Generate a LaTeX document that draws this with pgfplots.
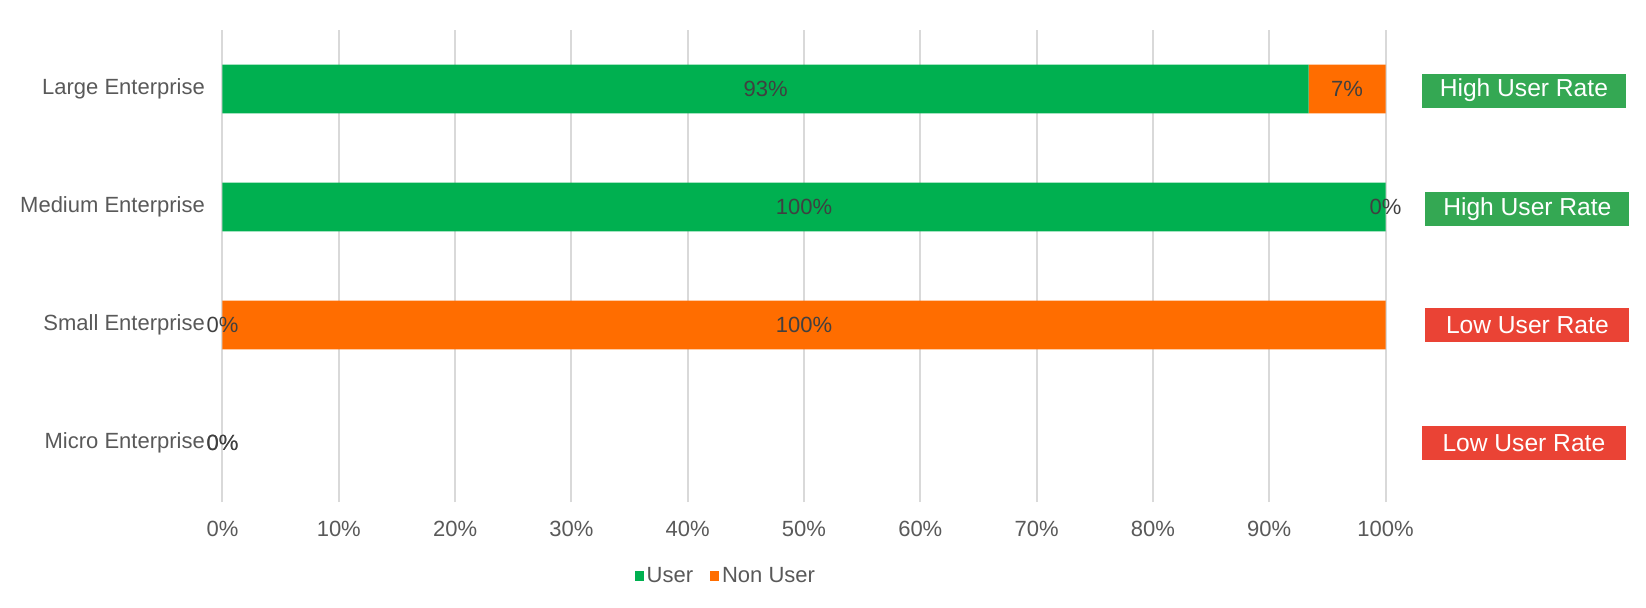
\documentclass[border=0pt]{standalone}
\usepackage{pgfplots}
\usepackage{pgfplotstable}
\pgfplotsset{compat=1.18}
\usepackage{fontspec}
\setmainfont{Liberation Sans}
\definecolor{userGreen}{HTML}{00B050}
\definecolor{nonOrange}{HTML}{FF6D00}
\definecolor{boxGreen}{HTML}{34A853}
\definecolor{boxRed}{HTML}{EA4335}
\definecolor{gridgray}{HTML}{D9D9D9}
\definecolor{textgray}{HTML}{595959}
\definecolor{labelgray}{HTML}{404040}

\pgfplotstableread{
y user nonuser
0 0 0
1 0 100
2 100 0
3 93.4 6.6
}\datatable

\begin{document}
\begin{tikzpicture}
\path[use as bounding box] (-111.25pt,-52.5pt) rectangle (711.75pt,251pt);
\begin{axis}[
  at={(0pt,0pt)}, anchor=south west,
  scale only axis, width=581.5pt, height=236pt,
  xbar stacked, bar width=24.35pt,
  xmin=0, xmax=100, ymin=-0.5, ymax=3.5,
  ytick={0,1,2,3},
  yticklabels={Micro Enterprise,Small Enterprise,Medium Enterprise,Large Enterprise},
  xtick={0,10,20,30,40,50,60,70,80,90,100},
  xticklabels={0\%,10\%,20\%,30\%,40\%,50\%,60\%,70\%,80\%,90\%,100\%},
  xmajorgrids, major grid style={draw=gridgray, line width=1pt},
  axis line style={draw=none}, major tick length=0pt,
  tick label style={font=\fontsize{11}{13}\selectfont, text=textgray},
  yticklabel style={xshift=-5.3pt},
  xticklabel style={yshift=-6pt},
  clip=false,
  legend style={at={(0.4334,-0.1568)}, anchor=center, draw=none, fill=none,
     legend columns=2, font=\fontsize{11}{13}\selectfont, text=textgray,
     /tikz/every even column/.append style={column sep=7pt},
     nodes={inner sep=1.5pt, xshift=2pt}},
  legend cell align=left,
]
\addplot[fill=userGreen, draw=none,
  legend image code/.code={\fill[userGreen] (-2.5pt,-2.5pt) rectangle (1.8pt,2.5pt);}]
  table[x=user, y=y] {\datatable};
\addlegendentry{User}
\addplot[fill=nonOrange, draw=none,
  legend image code/.code={\fill[nonOrange] (-2.5pt,-2.5pt) rectangle (2pt,2.5pt);}]
  table[x=nonuser, y=y] {\datatable};
\addlegendentry{Non User}

\tikzset{ratebox/.style={rectangle, inner sep=0pt, minimum width=102pt, minimum height=17pt,
  text=white, font=\fontsize{12.3}{14}\selectfont}}
\node[ratebox, fill=boxGreen] at (axis cs:111.9,2.987) {High User Rate};
\node[ratebox, fill=boxGreen] at (axis cs:112.2,1.983) {High User Rate};
\node[ratebox, fill=boxRed] at (axis cs:112.2,1.0) {Low User Rate};
\node[ratebox, fill=boxRed] at (axis cs:111.9,0.0) {Low User Rate};
\end{axis}
% data labels, centred on each segment
\begin{axis}[
  at={(0pt,0pt)}, anchor=south west,
  scale only axis, width=581.5pt, height=236pt,
  xmin=0, xmax=100, ymin=-0.5, ymax=3.5,
  hide axis, clip=false,
  nodes near coords={\pgfmathprintnumber[fixed,precision=0,assume math mode=true]{\pgfplotspointmeta}\%},
  every node near coord/.append style={anchor=center, font=\fontsize{11}{13}\selectfont, text=labelgray},
]
\addplot[only marks, mark=none, point meta={\thisrow{user}}]
  table[x expr={\thisrow{user}/2}, y=y] {\datatable};
\addplot[only marks, mark=none, point meta={\thisrow{nonuser}}]
  table[x expr={\thisrow{user}+\thisrow{nonuser}/2}, y=y] {\datatable};
\end{axis}
\end{tikzpicture}
\end{document}
